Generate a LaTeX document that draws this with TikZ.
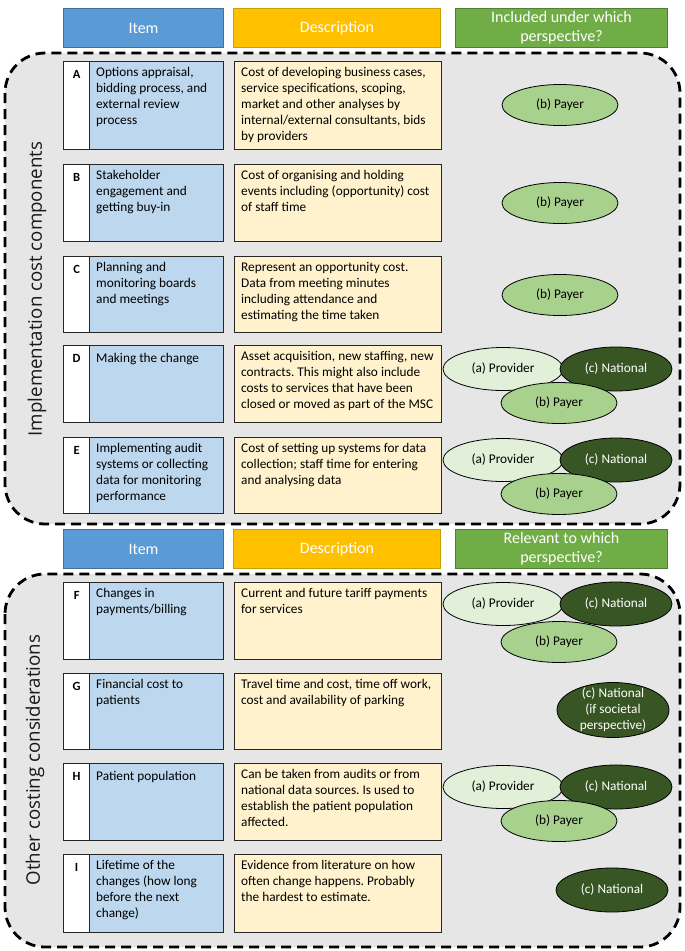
\documentclass[tikz,border=0pt]{standalone}
\usepackage{fontspec}
\setmainfont{Carlito}
\newfontfamily\sidefont{Open Sans}
\usetikzlibrary{shapes.geometric}
\frenchspacing

\definecolor{hdblue}{HTML}{5B9BD5}
\definecolor{hdblueline}{HTML}{41719C}
\definecolor{hdorange}{HTML}{FFC000}
\definecolor{hdorangeline}{HTML}{C9A000}
\definecolor{hdgreen}{HTML}{70AD47}
\definecolor{hdgreenline}{HTML}{507E32}
\definecolor{itemblue}{HTML}{BDD7EE}
\definecolor{descyellow}{HTML}{FFF2CC}
\definecolor{provgreen}{HTML}{E2F0D9}
\definecolor{paygreen}{HTML}{A9D18E}
\definecolor{natgreen}{HTML}{375623}
\definecolor{grayback}{HTML}{E7E6E6}

\newcommand{\cellfont}{\fontsize{13.3}{16}\selectfont}

\tikzset{
  group/.style={draw=black, line width=2.8pt, dash pattern=on 10pt off 6pt,
    fill=grayback, rounded corners=40pt},
  hdr/.style={anchor=north west, minimum height=39, inner sep=0, line width=1,
    text=white, align=center, font=\fontsize{16}{19}\selectfont},
  cellbox/.style={draw=black!85, line width=1.3, anchor=north west, inner sep=0},
  letterbox/.style={cellbox, fill=white, minimum width=26},
  itembox/.style={cellbox, fill=itemblue, minimum width=134},
  descbox/.style={cellbox, fill=descyellow, minimum width=207},
  celltext/.style={anchor=north west, align=left, inner xsep=7, inner ysep=6.5,
    font=\cellfont, execute at begin node=\strut},
  lettertext/.style={anchor=north, inner xsep=0, inner ysep=6.5,
    font=\fontsize{12.5}{16}\selectfont\bfseries, execute at begin node=\strut},
  persp/.style={ellipse, draw=black, line width=0.8, inner sep=0, font=\cellfont},
  provider/.style={persp, fill=provgreen, minimum width=120, minimum height=43},
  payer/.style={persp, fill=paygreen, minimum width=116, minimum height=41},
  national/.style={persp, fill=natgreen, text=white, minimum width=112, minimum height=44},
  sidelabel/.style={rotate=90, text=black!90, font=\sidefont\fontsize{18.7}{21}\selectfont}
}

% one row: top y, height, letter, item text, description
\newcommand{\costrow}[5]{%
  \node[letterbox, minimum height=#2] (l-#3) at (63,#1) {};
  \node[itembox, minimum height=#2] (it-#3) at (89,#1) {};
  \node[descbox, minimum height=#2] (de-#3) at (234,#1) {};
  \node[lettertext] (l-#3-txt) at (l-#3.north) {#3};
  \node[celltext] (it-#3-txt) at (it-#3.north west) {#4};
  \node[celltext] (de-#3-txt) at (de-#3.north west) {#5};
}

% three overlapping perspectives
\newcommand{\persptrio}[3]{%
  \node[provider] (prov-#1) at (503,#2) {(a) Provider};
  \node[national] (nat-#1) at (616,#2) {(c) National};
  \node[payer] (pay-#1) at (559,#3) {(b) Payer};
}

\begin{document}
\begin{tikzpicture}[x=1pt, y=-1pt]
  \useasboundingbox (0,0) rectangle (685,951);

  % dashed groups
  \draw[group] (5,53) rectangle (680,524);
  \draw[group] (5,574) rectangle (680,947);

  % column headers
  \foreach \hy/\ptext [count=\k] in {8/{Included under which\\perspective?}, 529/{Relevant to which\\perspective?}} {
    \node[hdr, fill=hdblue, draw=hdblueline, minimum width=160] (item-\k) at (63,\hy) {Item};
    \node[hdr, fill=hdorange, draw=hdorangeline, minimum width=207] (desc-\k) at (233,\hy) {Description};
    \node[hdr, fill=hdgreen, draw=hdgreenline, minimum width=212] (persp-\k) at (455,\hy) {\ptext};
  }

  % side labels
  \node[sidelabel] (impl) at (37,289) {Implementation cost components};
  \node[sidelabel] (other) at (35,760) {Other costing considerations};

  % implementation cost components
  \costrow{61}{88}{A}{Options appraisal,\\bidding process, and\\external review\\process}
    {Cost of developing business cases,\\service specifications, scoping,\\market and other analyses by\\internal/external consultants, bids\\by providers}
  \costrow{164}{77}{B}{Stakeholder\\engagement and\\getting buy-in}
    {Cost of organising and holding\\events including (opportunity) cost\\of staff time}
  \costrow{256}{76}{C}{Planning and\\monitoring boards\\and meetings}
    {Represent an opportunity cost.\\Data from meeting minutes\\including attendance and\\estimating the time taken}
  \costrow{345}{77}{D}{Making the change}
    {Asset acquisition, new staffing, new\\contracts. This might also include\\costs to services that have been\\closed or moved as part of the MSC}
  \costrow{437}{76}{E}{Implementing audit\\systems or collecting\\data for monitoring\\performance}
    {Cost of setting up systems for data\\collection; staff time for entering\\and analysing data}

  % other costing considerations
  \costrow{582}{77}{F}{Changes in\\payments/billing}
    {Current and future tariff payments\\for services}
  \costrow{673}{76}{G}{Financial cost to\\patients}
    {Travel time and cost, time off work,\\cost and availability of parking}
  \costrow{763}{77}{H}{Patient population}
    {Can be taken from audits or from\\national data sources. Is used to\\establish the patient population\\affected.}
  \costrow{854}{78}{I}{Lifetime of the\\changes (how long\\before the next\\change)}
    {Evidence from literature on how\\often change happens. Probably\\the hardest to estimate.}

  % perspectives
  \node[payer] (pay-A) at (560,105) {(b) Payer};
  \node[payer] (pay-B) at (560,203) {(b) Payer};
  \node[payer] (pay-C) at (560,295) {(b) Payer};
  \persptrio{D}{369}{403}
  \persptrio{E}{460}{494}
  \persptrio{F}{604}{642}
  \node[national, minimum height=55] (nat-G) at (613,710) {};
  \node[font=\cellfont, text=white, align=center, inner sep=0] (nat-G-txt) at (nat-G) {(c) National\\(if societal\\perspective)};
  \persptrio{H}{787}{821}
  \node[national] (nat-I) at (612,890) {(c) National};
\end{tikzpicture}
\end{document}
